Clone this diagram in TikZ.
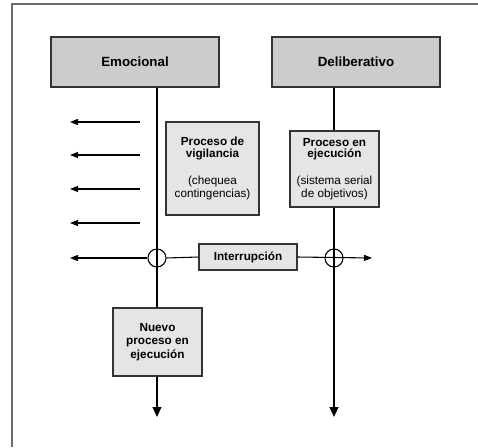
\documentclass[tikz,border=0pt]{standalone}
\usepackage{fontspec}
\setmainfont{Liberation Sans}
\usetikzlibrary{arrows.meta}

\tikzset{
  layerbox/.style={draw=black!80, line width=0.8pt, fill=black!20, inner sep=0pt,
    minimum width=126pt, minimum height=37.5pt, font=\fontsize{10}{12}\selectfont\bfseries},
  procbox/.style={draw=black!80, line width=0.8pt, fill=black!10, inner sep=0pt,
    align=center, font=\fontsize{8.8}{8.8}\selectfont},
  junction/.style={circle, draw=black, line width=0.8pt, inner sep=0pt, minimum size=13.5pt},
  vline/.style={line width=1.5pt, black},
  hline/.style={line width=0.8pt, black},
  harrow/.style={hline, -{Triangle[length=6pt,width=4.5pt]}},
  varrow/.style={vline, -{Triangle[length=7.5pt,width=6.5pt]}},
  frameline/.style={line width=1.5pt, black!58}
}

\begin{document}
\begin{tikzpicture}[x=0.75pt, y=-0.75pt]
  \useasboundingbox (0,0) rectangle (478,447);

  % open frame: left and top edges only
  \draw[frameline] (11.5,447) -- (11.5,3.5) -- (478,3.5);

  % the two layers
  \node[layerbox] (emo) at (135,62) {Emocional};
  \node[layerbox] (delib) at (356,62) {Deliberativo};

  % processes
  \node[procbox, minimum width=69.75pt, minimum height=69.75pt] (vig) at (212.5,168.5)
    {\bfseries Proceso de\\\bfseries vigilancia\\[11.5pt](chequea\\[0.8pt]contingencias)};
  \node[procbox, minimum width=66.75pt, minimum height=57pt] (pe) at (334.5,169)
    {\bfseries Proceso en\\\bfseries ejecución\\[11.5pt](sistema serial\\[0.8pt]de objetivos)};
  \node[procbox, minimum width=66.75pt, minimum height=51pt,
        font=\fontsize{8.8}{10}\selectfont\bfseries] (nuevo) at (157.5,342)
    {Nuevo\\proceso en\\ejecución};
  \node[procbox, minimum width=73.5pt, minimum height=19.5pt, font=\fontsize{8.8}{10}\selectfont\bfseries]
    (intr) at (248,257) {Interrupción};

  % junctions on the time lines
  \node[junction] (c1) at (157,258) {};
  \node[junction] (c2) at (334,258) {};

  % free ends of the connectors
  \coordinate (e1) at (157,417);
  \coordinate (e2) at (334,417);
  \foreach \i/\yy in {1/122, 2/155, 3/189, 4/223} {
    \coordinate (s\i) at (140,\yy);
    \coordinate (t\i) at (70,\yy);
  }
  \coordinate (t5) at (70,258);
  \coordinate (r5) at (372,258);

  % emotional time line
  \draw[vline] (emo.south -| c1) -- (nuevo.north -| c1);
  \draw[varrow] (nuevo.south -| c1) -- (e1);

  % deliberative time line
  \draw[vline] (delib.south -| c2) -- (pe.north -| c2);
  \draw[varrow] (pe.south -| c2) -- (e2);

  % outgoing signals
  \foreach \i in {1,...,4} \draw[harrow] (s\i) -- (t\i);

  % interruption path
  \draw[harrow] (c1.west) -- (t5);
  \draw[hline] (c1.east) -- (intr.west);
  \draw[harrow] (intr.east) -- (r5);
\end{tikzpicture}
\end{document}
